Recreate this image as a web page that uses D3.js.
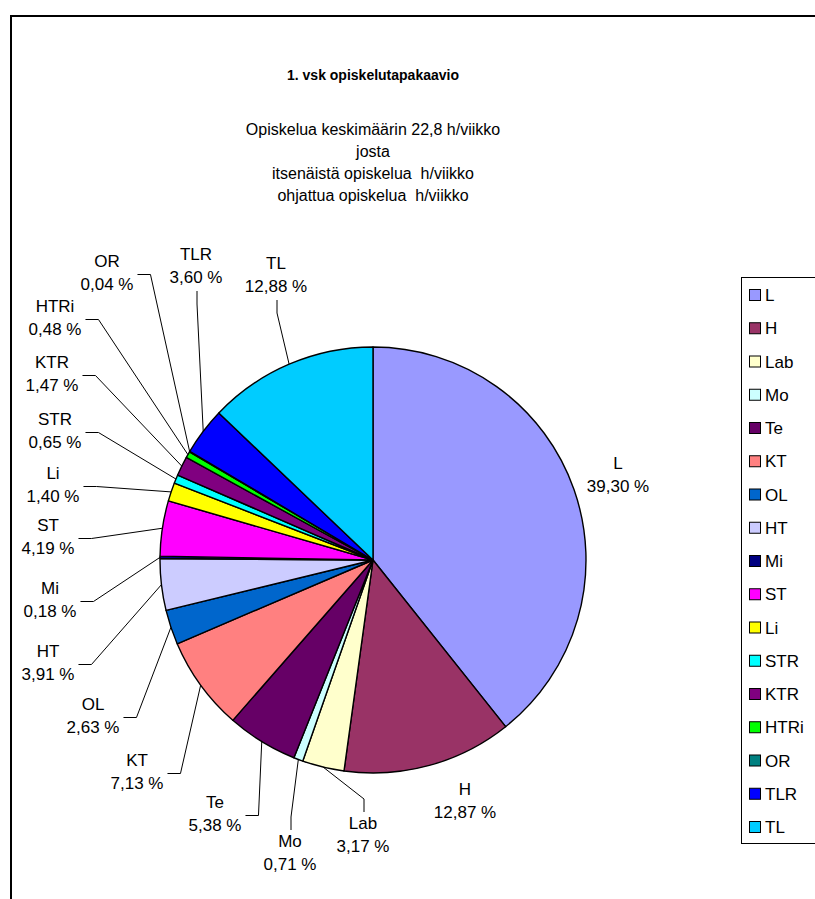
<!DOCTYPE html>
<html>
<head>
<meta charset="utf-8">
<script src="https://cdn.jsdelivr.net/npm/d3@7"></script>
<style>
  body { margin: 0; background: #fff; }
  svg { display: block; font-family: "Liberation Sans", Arial, sans-serif; }
  text { white-space: pre; }
</style>
</head>
<body>
<div id="chart"></div>
<script>
// slice names, shares (%) and colours, clockwise from 12 o'clock
var categories = ["L", "H", "Lab", "Mo", "Te", "KT", "OL", "HT", "Mi", "ST", "Li", "STR", "KTR", "HTRi", "OR", "TLR", "TL"];
var shares = [39.30, 12.87, 3.17, 0.71, 5.38, 7.13, 2.63, 3.91, 0.18, 4.19, 1.40, 0.65, 1.47, 0.48, 0.04, 3.60, 12.88];
var colors = ["#9999FF", "#993366", "#FFFFCC", "#CCFFFF", "#660066", "#FF8080", "#0066CC", "#CCCCFF", "#000080",
              "#FF00FF", "#FFFF00", "#00FFFF", "#800080", "#00FF00", "#008080", "#0000FF", "#00CCFF"];

var title = "1. vsk opiskelutapakaavio";
var subtitle = ["Opiskelua keskimäärin 22,8 h/viikko", "josta", "itsenäistä opiskelua  h/viikko", "ohjattua opiskelua  h/viikko"];

// layout: where each data label sits, offset from the pie centre (x, first line y)
var labelOffsets = [[245, -97], [92, 229], [-10, 263], [-83, 281], [-158, 242], [-236, 200], [-280, 144],
                    [-325, 91], [-323, 28], [-325, -35], [-320, -87], [-318, -141], [-321, -198],
                    [-318, -254], [-266, -299], [-177, -306], [-97, -297]];

var width = 815, height = 899;
var cx = 373, cy = 560, radius = 213;

var data = categories.map(function(c, i) { return { name: c, value: shares[i], color: colors[i], off: labelOffsets[i] }; });

var svg = d3.select("#chart").append("svg")
	.attr("width", width)
	.attr("height", height);

// chart frame (runs off the right and bottom edges)
svg.append("rect")
	.attr("x", 11).attr("y", 16)
	.attr("width", 900).attr("height", 950)
	.attr("fill", "none")
	.attr("stroke", "#000")
	.attr("stroke-width", 2);

// titles
svg.append("text")
	.attr("x", cx).attr("y", 80)
	.attr("text-anchor", "middle")
	.attr("font-size", 14)
	.attr("font-weight", "bold")
	.text(title);

svg.selectAll("text.sub")
	.data(subtitle)
	.enter().append("text")
	.attr("class", "sub")
	.attr("x", cx)
	.attr("y", function(d, i) { return 135 + i * 22; })
	.attr("text-anchor", "middle")
	.attr("font-size", 16)
	.text(function(d) { return d; });

// pie
var pie = d3.pie().sort(null).value(function(d) { return d.value; });
var arc = d3.arc().innerRadius(0).outerRadius(radius);
var arcs = pie(data);

var g = svg.append("g").attr("transform", "translate(" + cx + "," + cy + ")");

g.selectAll("path.slice")
	.data(arcs)
	.enter().append("path")
	.attr("class", "slice")
	.attr("d", arc)
	.attr("fill", function(d) { return d.data.color; })
	.attr("stroke", "#000")
	.attr("stroke-width", 1.4)
	.attr("stroke-linejoin", "round");

// data labels
var fmt = d3.format(".2f");
var labels = g.selectAll("g.label")
	.data(arcs)
	.enter().append("g")
	.attr("class", "label");

labels.append("text")
	.attr("text-anchor", "middle")
	.attr("font-size", 17)
	.each(function(d) {
		var t = d3.select(this);
		t.append("tspan")
			.attr("x", d.data.off[0])
			.attr("y", d.data.off[1] + 6)
			.text(d.data.name);
		t.append("tspan")
			.attr("x", d.data.off[0])
			.attr("y", d.data.off[1] + 29)
			.text(fmt(d.data.value).replace(".", ",") + " %");
	});

// leader lines from label to the slice edge
var line = d3.line();
labels.each(function(d) {
	var box = d3.select(this).select("text").node().getBBox();
	var mid = (d.startAngle + d.endAngle) / 2;
	var px = radius * Math.sin(mid), py = -radius * Math.cos(mid);
	var lx = d.data.off[0], ly = d.data.off[1] + 11.5;
	if (Math.sqrt(lx * lx + ly * ly) < 265) return;
	var pts;
	if (Math.abs(lx) / Math.abs(ly) > 0.61) {
		var sx = px > lx ? box.x + box.width + 4 : box.x - 4;
		var dir = px > lx ? 1 : -1;
		pts = [[sx, ly + 2], [sx + dir * 13, ly + 2], [px, py]];
	} else {
		var sy = py < ly ? box.y - 2 : box.y + box.height + 4;
		var dv = py < ly ? -1 : 1;
		pts = [[lx + 1, sy], [lx + 1, sy + dv * 13], [px, py]];
	}
	d3.select(this).append("path")
		.attr("d", line(pts))
		.attr("fill", "none")
		.attr("stroke", "#000")
		.attr("stroke-width", 1);
});

// legend
var legend = svg.append("g").attr("transform", "translate(741,277)");
legend.append("rect")
	.attr("x", 0.5).attr("y", 0.5)
	.attr("width", 120).attr("height", 566)
	.attr("fill", "#fff")
	.attr("stroke", "#000")
	.attr("stroke-width", 1);

var item = legend.selectAll("g.item")
	.data(data)
	.enter().append("g")
	.attr("class", "item")
	.attr("transform", function(d, i) { return "translate(0," + (18 + i * 33.25) + ")"; });

item.append("rect")
	.attr("x", 8.5).attr("y", -5.5)
	.attr("width", 11).attr("height", 11)
	.attr("fill", function(d) { return d.color; })
	.attr("stroke", "#000")
	.attr("stroke-width", 1);

item.append("text")
	.attr("x", 24).attr("y", 6)
	.attr("font-size", 17)
	.text(function(d) { return d.name; });
</script>
</body>
</html>
